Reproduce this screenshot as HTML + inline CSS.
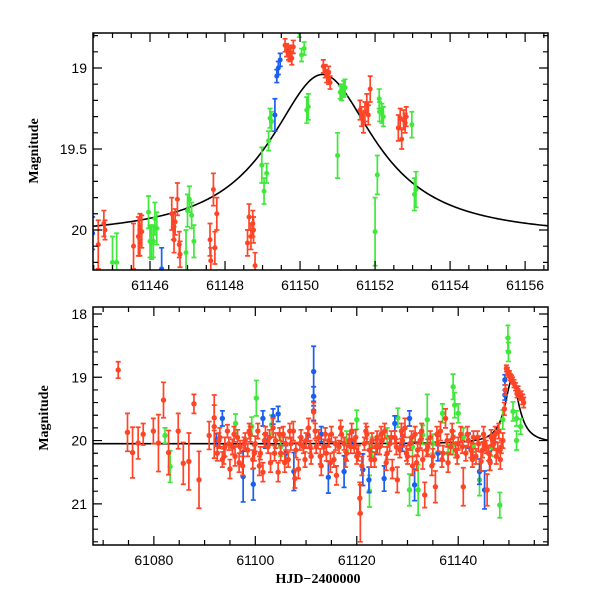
<!DOCTYPE html>
<html><head><meta charset="utf-8"><style>
html,body{margin:0;padding:0;background:#fff;}
svg{display:block;}
text{font-family:"Liberation Sans",sans-serif;font-size:14px;fill:#000;}
.ttl{font-family:"Liberation Serif",serif;font-weight:bold;font-size:14px;}
</style></head><body>
<svg id="chart" width="600" height="600" viewBox="0 0 600 600">
<defs>
<clipPath id="clipTop"><rect x="93" y="33" width="455" height="237"/></clipPath>
<clipPath id="clipBot"><rect x="93" y="307" width="455" height="238"/></clipPath>
</defs>
<g id="topPanel"></g>
<g id="botPanel"></g>
<text class="ttl" x="38" y="151" text-anchor="middle" transform="rotate(-90 38 151)">Magnitude</text>
<text class="ttl" x="48" y="418" text-anchor="middle" transform="rotate(-90 48 418)">Magnitude</text>
<text class="ttl" x="318" y="583" text-anchor="middle">HJD−2400000</text>
</svg>
<script>
// ---- model parameters ----
const modelT0 = 61150.6, modelBase = 20.05, modelDm = 1.01, modelW = 1.71;
// ---- top panel data ----
const topRedT=[61144.62,61144.77,61144.80,61145.56,61145.69,61145.73,61145.78,61145.73,61146.58,61146.62,61146.67,61146.73,61146.64,61146.78,61146.80,61147.60,61147.62,61147.73,61147.69,61147.78,61148.60,61148.64,61148.69,61148.74,61148.76,61148.80,61149.60,61149.64,61149.69,61149.73,61149.78,61149.82,61149.73,61150.62,61150.67,61150.71,61150.76,61150.80,61150.76,61151.60,61151.64,61151.69,61151.73,61151.78,61151.82,61151.87,61152.62,61152.67,61152.71,61152.76,61152.80,61152.83];
const topRedM=[20.09,19.96,20.00,20.10,20.04,19.98,20.01,20.08,19.90,19.98,19.95,19.81,20.06,20.09,20.15,20.06,20.19,20.11,19.75,19.90,20.08,19.92,20.04,19.96,20.00,20.22,18.86,18.89,18.91,18.90,18.94,18.87,18.92,18.99,19.02,19.05,19.03,19.09,19.06,19.26,19.30,19.34,19.27,19.22,19.29,19.13,19.37,19.31,19.44,19.32,19.34,19.30];
const topRedE=[.15,.08,.06,.14,.12,.08,.10,.08,.10,.08,.08,.10,.08,.08,.08,.10,.08,.10,.10,.10,.08,.08,.08,.08,.08,.08,.04,.04,.04,.04,.04,.04,.04,.04,.04,.04,.04,.04,.04,.06,.06,.06,.06,.06,.06,.08,.08,.06,.06,.06,.06,.06];
const topGreenT=[61145.00,61145.11,61145.96,61146.00,61146.04,61146.09,61146.13,61146.18,61146.96,61147.00,61147.05,61147.11,61147.17,61148.98,61149.04,61149.11,61149.16,61149.20,61149.24,61149.98,61150.04,61150.11,61150.18,61150.22,61151.00,61151.07,61151.11,61151.16,61151.20,61152.00,61152.06,61152.11,61152.12,61152.18,61152.22,61152.98,61153.05,61153.09];
const topGreenM=[20.20,20.20,19.89,20.07,20.08,20.07,19.93,19.99,20.14,19.88,19.81,19.91,20.07,19.60,19.76,19.65,19.45,19.31,19.33,18.78,18.92,18.88,19.26,19.24,19.54,19.15,19.15,19.13,19.12,20.01,19.66,19.19,19.27,19.28,19.30,19.35,19.78,19.75];
const topGreenE=[.16,.18,.10,.10,.10,.10,.10,.10,.14,.10,.08,.08,.10,.11,.08,.06,.06,.06,.06,.03,.04,.04,.08,.08,.14,.04,.05,.05,.05,.21,.12,.06,.06,.06,.06,.08,.10,.11];
const topBlueT=[61144.47,61146.31,61149.33,61149.38,61149.42,61149.47];
const topBlueM=[20.02,20.24,19.29,19.05,19.00,18.95];
const topBlueE=[.10,.13,.10,.04,.04,.04];
// ---- bottom panel data ----
const botRedT=[61072.97,61074.8,61075.8,61076.9,61077.9,61079.9,61080.9,61081.9,61082.9,61084.8,61085.8,61086.9,61087.9,61088.9,61090.9,61091.9,61091.9,
61092.5,61093.0,61093.5,61094.0,61094.5,61095.0,61095.5,61096.0,61096.5,61097.0,61097.5,61098.0,61098.5,61099.0,61099.5,61100.0,61100.5,61101.0,61101.5,61102.0,61102.5,61103.0,61103.5,61104.0,61104.5,61105.0,61105.5,61106.0,61106.5,61107.0,61107.5,61108.0,61108.5,61109.0,61109.5,61110.0,61110.5,61111.0,61111.5,61112.0,61112.5,61113.0,61113.5,61114.0,61114.5,61115.0,61115.5,61116.0,61116.5,61117.0,61117.5,61118.0,61118.5,61119.0,61119.5,61120.0,61120.6,61120.7,61121.0,61121.5,61122.0,61122.5,61123.0,61123.5,61124.0,61124.5,61125.0,61125.5,61126.0,61126.5,61127.0,61127.5,61128.0,61128.5,61129.0,61129.5,61130.0,61130.5,61131.0,61131.5,61132.0,61132.5,61133.0,61133.4,61134.0,61134.5,61135.0,61135.5,61136.0,61136.5,61137.0,61137.5,61138.0,61138.5,61139.0,61139.5,61140.0,61140.5,61141.0,61141.5,61142.0,61142.5,61143.0,61143.5,61144.0,61144.5,61145.0,61145.5,61145.7,61146.0,61146.5,61147.0,61147.5,61148.0,61148.5,
61149.5,61149.7,61149.9,61150.3,61150.7,61151.0,61151.6,61151.8,61152.2,61152.7,61152.9];
const botRedM=[18.885,19.87,20.19,20.04,19.90,19.85,20.04,19.36,20.19,19.85,20.36,20.33,19.42,20.62,19.92,19.78,19.64,
20.20,19.95,20.30,20.10,19.85,20.45,20.10,20.25,19.95,20.10,20.40,20.00,20.15,19.90,20.30,20.05,19.85,20.20,20.50,19.90,20.10,20.35,19.80,20.00,20.50,20.20,19.90,20.05,20.30,20.05,19.85,20.15,20.45,19.95,20.10,20.00,19.80,20.25,19.55,20.10,19.95,20.40,20.10,20.20,20.00,19.90,20.30,20.55,20.10,19.90,20.05,20.20,20.00,19.85,20.10,20.25,20.91,21.15,20.40,20.05,19.90,20.15,20.00,20.30,19.95,20.10,20.00,19.85,20.20,20.05,20.45,19.95,20.62,20.15,20.00,19.80,20.25,20.05,20.40,19.90,20.15,20.00,20.30,20.86,20.10,19.95,20.25,20.73,20.05,19.85,20.20,19.65,20.35,20.10,19.95,20.15,20.05,19.90,20.73,20.20,20.00,20.15,19.95,20.25,20.05,20.33,19.90,20.10,20.78,20.20,19.95,20.05,20.25,19.85,20.10,
18.86,18.90,18.95,19.00,19.05,19.10,19.26,19.20,19.30,19.35,19.40];
const botRedE=[.13,.30,.40,.25,.17,.20,.45,.28,.35,.28,.33,.45,.15,.45,.22,.50,.20,
.12,.15,.12,.15,.10,.15,.12,.15,.12,.10,.15,.12,.10,.12,.15,.12,.12,.10,.15,.12,.10,.15,.15,.12,.15,.12,.12,.10,.12,.10,.15,.12,.15,.12,.10,.12,.15,.12,.15,.10,.12,.15,.12,.12,.10,.12,.12,.15,.10,.12,.10,.12,.10,.12,.10,.12,.25,.45,.15,.10,.12,.10,.12,.12,.10,.12,.10,.12,.10,.12,.15,.10,.20,.12,.10,.15,.12,.10,.15,.12,.10,.12,.15,.20,.12,.10,.12,.25,.12,.15,.12,.15,.15,.12,.10,.12,.10,.12,.30,.12,.10,.12,.10,.12,.12,.15,.12,.10,.25,.12,.12,.10,.12,.12,.10,
.05,.05,.05,.05,.05,.06,.06,.06,.06,.08,.08];
const botRedExtraT=[61092.8,61093.8,61094.8,61095.8,61096.8,61097.8,61098.8,61099.8,61100.8,61101.8,61102.8,61103.8,61104.8,61105.8,61106.8,61107.8,61108.8,61109.8,61110.8,61111.8,61112.8,61113.8,61114.8,61115.8,61116.8,61117.8,61118.8,61119.8,61120.3,61121.8,61122.8,61123.8,61124.8,61125.8,61126.8,61127.8,61128.8,61129.8,61130.8,61131.8,61132.8,61133.8,61134.8,61135.8,61136.8,61137.8,61138.8,61139.8,61140.8,61141.8,61142.8,61143.8,61144.8,61145.3,61146.3,61146.8,61147.3,61147.8,61148.3,61148.8,61149.1,61149.3,61150.1,61150.5,61151.3,61152.4];
const botRedExtraM=[20.0,20.25,20.05,19.9,20.35,20.05,19.85,20.2,20.4,20.0,19.95,20.2,19.9,20.35,19.85,20.6,20.05,20.3,20.1,19.85,20.25,19.9,20.35,20.05,19.8,20.3,20.1,19.95,20.2,19.85,20.3,20.1,19.9,20.35,19.95,20.1,19.85,20.2,19.95,20.35,19.85,20.15,20.4,19.9,20.3,20.0,19.85,20.25,20.1,19.9,20.3,19.95,20.15,20.05,20.35,20.0,19.9,20.15,20.3,20.0,19.5,19.2,18.95,19.02,19.15,19.28];
const botRedExtraE=[.12,.12,.10,.12,.15,.10,.12,.12,.15,.10,.12,.12,.10,.15,.12,.15,.10,.12,.10,.12,.12,.10,.15,.10,.12,.12,.10,.12,.12,.12,.12,.10,.12,.12,.10,.12,.12,.12,.10,.12,.12,.10,.15,.12,.12,.10,.12,.12,.10,.12,.12,.10,.12,.10,.12,.10,.12,.12,.15,.12,.10,.08,.05,.05,.06,.06];
const botBlueT=[61111.5,61111.5,61111.5,61093.5,61097.6,61099.6,61101.5,61103.5,61104.5,61107.6,61114.4,61117.5,61121.2,61122.4,61125.4,61127.5,61130.4,61131.4,61145.2,61146.2,61144.2,61092.3,61110.4,61095.5,61102,61106,61113,61119,61124,61129,61136,61142,61149.2,61149.2];
const botBlueM=[18.91,19.30,19.53,19.65,20.57,20.69,19.65,19.62,19.58,20.49,20.58,20.49,20.46,20.62,20.60,19.73,19.65,20.70,20.78,20.32,20.49,19.99,19.91,20.10,20.00,20.20,19.90,20.00,20.10,20.05,20.20,20.00,19.04,19.28];
const botBlueE=[.40,.15,.15,.12,.40,.25,.12,.12,.12,.30,.25,.25,.25,.20,.20,.12,.12,.25,.30,.15,.20,.10,.10,.12,.12,.12,.12,.12,.12,.12,.12,.12,.08,.08];
const botGreenT=[61082.2,61083.2,61096.1,61099.3,61100.2,61103.2,61120.0,61128.1,61132.1,61133.9,61139.0,61139.3,61140.0,61139.0,61148.2,61148.8,61136.9,61130.4,61122.5,61133.0,61144.2,61105,61118,61123,61126,61131,61135,61138,61141,61143,61146.5,61149.8,61149.9,61150.8,61151.5,61152.3,61151.5];
const botGreenM=[19.92,20.41,19.73,19.78,19.33,19.75,19.67,19.64,20.78,19.67,19.15,19.44,19.57,20.07,21.02,19.67,19.57,20.78,20.80,19.91,20.62,20.10,20.00,20.10,19.95,20.10,20.05,20.20,19.95,20.10,20.10,18.38,18.60,19.54,19.65,19.78,20.00];
const botGreenE=[.12,.25,.15,.15,.28,.15,.15,.15,.40,.40,.20,.20,.15,.15,.20,.15,.15,.25,.25,.15,.25,.15,.15,.15,.15,.15,.15,.15,.15,.15,.15,.20,.15,.15,.12,.12,.15];
// ---- tick labels ----
const topXTicks=[61146,61148,61150,61152,61154,61156];
const topYTicks=[19,19.5,20];
const botXTicks=[61080,61100,61120,61140];
const botYTicks=[18,19,20,21];

const NS='http://www.w3.org/2000/svg';
function mk(tag,attrs,parent){const e=document.createElementNS(NS,tag);for(const k in attrs)e.setAttribute(k,attrs[k]);parent.appendChild(e);return e;}

const panels={
 top:{x0:93,x1:548,y0:33,y1:270,tmin:61144.48,tmax:61156.61,mTop:18.784,mBot:20.247,clip:'clipTop',g:document.getElementById('topPanel')},
 bot:{x0:93,x1:548,y0:307,y1:545,tmin:61068.0,tmax:61157.7,mTop:17.89,mBot:21.65,clip:'clipBot',g:document.getElementById('botPanel')}
};
function xs(p,t){return p.x0+(t-p.tmin)/(p.tmax-p.tmin)*(p.x1-p.x0);}
function ys(p,m){return p.y0+(m-p.mTop)/(p.mBot-p.mTop)*(p.y1-p.y0);}

function drawSeries(p,T,M,E,color,name,r){
 const g=mk('g',{'clip-path':'url(#'+p.clip+')'},p.g);
 
 
 for(let i=0;i<T.length;i++){
  const x=xs(p,T[i]),ya=ys(p,M[i]-E[i]),yb=ys(p,M[i]+E[i]),y=ys(p,M[i]);
  const pt=mk('path',{d:`M${x} ${ya}V${yb}M${x-2.5} ${ya}H${x+2.5}M${x-2.5} ${yb}H${x+2.5}`,stroke:color,'stroke-width':1.7,fill:'none'},g);
  
  
  const c=mk('circle',{cx:x,cy:y,r:r||2.5,fill:color},g);
  
  
 }
}
function drawModel(p){
 let d='';
 for(let i=0;i<=400;i++){
  const t=p.tmin+(p.tmax-p.tmin)*i/400;
  const u=(t-modelT0)/modelW;
  const m=modelBase-modelDm/(1+u*u);
  d+=(i?'L':'M')+xs(p,t).toFixed(2)+' '+ys(p,m).toFixed(2);
 }
 const path=mk('path',{d:d,stroke:'#000','stroke-width':1.6,fill:'none','clip-path':'url(#'+p.clip+')'},p.g);
 
 
}
function drawAxes(p,xMinor,xMajor,yMinor,yMajor,xLabels,yLabels,yFmt,pre){
 const g=mk('g',{},p.g);
 
 
 let d='';
 const tStart=Math.ceil(p.tmin/xMinor)*xMinor;
 for(let t=tStart;t<=p.tmax+1e-6;t+=xMinor){
  const x=xs(p,t);const maj=Math.abs(t/xMajor-Math.round(t/xMajor))<1e-6;const L=maj?9:5;
  d+=`M${x} ${p.y1}V${p.y1-L}M${x} ${p.y0}V${p.y0+L}`;
 }
 const mStart=Math.ceil(p.mTop/yMinor-1e-6)*yMinor;
 for(let m=mStart;m<=p.mBot+1e-6;m+=yMinor){
  const y=ys(p,m);const maj=Math.abs(m/yMajor-Math.round(m/yMajor))<1e-6;const L=maj?9:5;
  d+=`M${p.x0} ${y}H${p.x0+L}M${p.x1} ${y}H${p.x1-L}`;
 }
 mk('path',{d:d,stroke:'#000','stroke-width':1.2,fill:'none'},g);
 const frame=mk('rect',{x:p.x0,y:p.y0,width:p.x1-p.x0,height:p.y1-p.y0,fill:'none',stroke:'#000','stroke-width':1.5},g);
 
 
 xLabels.forEach(v=>{
  const tx=mk('text',{x:xs(p,v),y:p.y1+20,'text-anchor':'middle'},g);
  tx.textContent=String(v);
  
  
 });
 yLabels.forEach(v=>{
  const tx=mk('text',{x:p.x0-6,y:ys(p,v)+5,'text-anchor':'end'},g);
  tx.textContent=yFmt(v);
  
  
 });
}
const T=panels.top,B=panels.bot;
drawModel(T);
drawSeries(T,topGreenT,topGreenM,topGreenE,'#3fe83a','top-green-series');
drawSeries(T,topBlueT,topBlueM,topBlueE,'#1a5ff0','top-blue-series');
drawSeries(T,topRedT,topRedM,topRedE,'#ff4527','top-red-series');
drawAxes(T,0.5,2,0.1,0.5,topXTicks,topYTicks,v=>String(v),'top');
drawModel(B);
drawSeries(B,botGreenT,botGreenM,botGreenE,'#3fe83a','bottom-green-series',2.7);
drawSeries(B,botBlueT,botBlueM,botBlueE,'#1a5ff0','bottom-blue-series',2.7);
drawSeries(B,botRedT,botRedM,botRedE,'#ff4527','bottom-red-series',2.7);
drawSeries(B,botRedExtraT,botRedExtraM,botRedExtraE,'#ff4527','bottom-red-extra-series',2.7);
drawAxes(B,5,20,0.2,1,botXTicks,botYTicks,v=>String(v),'bottom');
</script>
</body></html>
